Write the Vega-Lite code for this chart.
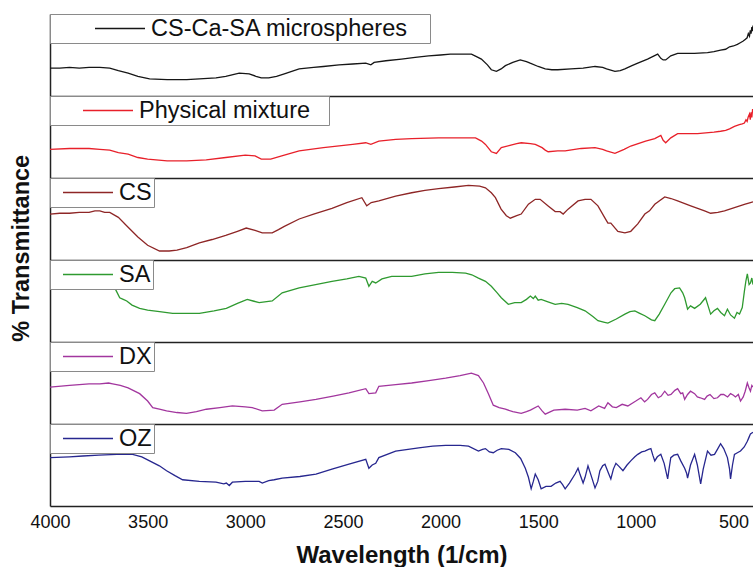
{
  "$schema": "https://vega.github.io/schema/vega-lite/v6.json",
  "padding": {"left": 10, "top": 13, "right": 0, "bottom": 0},
  "bounds": "flush",
  "title": {"text": "% Transmittance", "orient": "left", "anchor": "middle", "fontSize": 23.5, "fontWeight": "bold", "color": "#111111", "offset": -4, "dx": 42, "font": "Liberation Sans"},
  "datasets": {
    "ticks": [
      {"wavenumber":4000,"kind":"major"},{"wavenumber":3750,"kind":"minor"},{"wavenumber":3500,"kind":"major"},{"wavenumber":3250,"kind":"minor"},
      {"wavenumber":3000,"kind":"major"},{"wavenumber":2750,"kind":"minor"},{"wavenumber":2500,"kind":"major"},{"wavenumber":2250,"kind":"minor"},
      {"wavenumber":2000,"kind":"major"},{"wavenumber":1750,"kind":"minor"},{"wavenumber":1500,"kind":"major"},{"wavenumber":1250,"kind":"minor"},
      {"wavenumber":1000,"kind":"major"},{"wavenumber":750,"kind":"minor"},{"wavenumber":500,"kind":"major"}
    ],
    "spectra": [
      {"spectrum":"CS-Ca-SA microspheres","wavenumber":4000,"transmittance":34},{"spectrum":"CS-Ca-SA microspheres","wavenumber":3950,"transmittance":34},{"spectrum":"CS-Ca-SA microspheres","wavenumber":3900,"transmittance":35},{"spectrum":"CS-Ca-SA microspheres","wavenumber":3850,"transmittance":34},{"spectrum":"CS-Ca-SA microspheres","wavenumber":3800,"transmittance":35},{"spectrum":"CS-Ca-SA microspheres","wavenumber":3745,"transmittance":35},{"spectrum":"CS-Ca-SA microspheres","wavenumber":3694,"transmittance":34},{"spectrum":"CS-Ca-SA microspheres","wavenumber":3650,"transmittance":31},{"spectrum":"CS-Ca-SA microspheres","wavenumber":3600,"transmittance":28},{"spectrum":"CS-Ca-SA microspheres","wavenumber":3550,"transmittance":24},{"spectrum":"CS-Ca-SA microspheres","wavenumber":3490,"transmittance":21},{"spectrum":"CS-Ca-SA microspheres","wavenumber":3400,"transmittance":20},{"spectrum":"CS-Ca-SA microspheres","wavenumber":3300,"transmittance":20},{"spectrum":"CS-Ca-SA microspheres","wavenumber":3235,"transmittance":21},{"spectrum":"CS-Ca-SA microspheres","wavenumber":3150,"transmittance":22},{"spectrum":"CS-Ca-SA microspheres","wavenumber":3100,"transmittance":24},{"spectrum":"CS-Ca-SA microspheres","wavenumber":3031,"transmittance":28},{"spectrum":"CS-Ca-SA microspheres","wavenumber":2980,"transmittance":27},{"spectrum":"CS-Ca-SA microspheres","wavenumber":2945,"transmittance":24},{"spectrum":"CS-Ca-SA microspheres","wavenumber":2918,"transmittance":22},{"spectrum":"CS-Ca-SA microspheres","wavenumber":2880,"transmittance":22},{"spectrum":"CS-Ca-SA microspheres","wavenumber":2840,"transmittance":24},{"spectrum":"CS-Ca-SA microspheres","wavenumber":2800,"transmittance":27},{"spectrum":"CS-Ca-SA microspheres","wavenumber":2724,"transmittance":33},{"spectrum":"CS-Ca-SA microspheres","wavenumber":2650,"transmittance":35},{"spectrum":"CS-Ca-SA microspheres","wavenumber":2600,"transmittance":36},{"spectrum":"CS-Ca-SA microspheres","wavenumber":2520,"transmittance":38},{"spectrum":"CS-Ca-SA microspheres","wavenumber":2450,"transmittance":39},{"spectrum":"CS-Ca-SA microspheres","wavenumber":2383,"transmittance":40},{"spectrum":"CS-Ca-SA microspheres","wavenumber":2357,"transmittance":38},{"spectrum":"CS-Ca-SA microspheres","wavenumber":2340,"transmittance":41},{"spectrum":"CS-Ca-SA microspheres","wavenumber":2280,"transmittance":43},{"spectrum":"CS-Ca-SA microspheres","wavenumber":2200,"transmittance":45},{"spectrum":"CS-Ca-SA microspheres","wavenumber":2130,"transmittance":47},{"spectrum":"CS-Ca-SA microspheres","wavenumber":2061,"transmittance":49},{"spectrum":"CS-Ca-SA microspheres","wavenumber":2000,"transmittance":50},{"spectrum":"CS-Ca-SA microspheres","wavenumber":1950,"transmittance":51},{"spectrum":"CS-Ca-SA microspheres","wavenumber":1900,"transmittance":51},{"spectrum":"CS-Ca-SA microspheres","wavenumber":1842,"transmittance":51},{"spectrum":"CS-Ca-SA microspheres","wavenumber":1816,"transmittance":48},{"spectrum":"CS-Ca-SA microspheres","wavenumber":1791,"transmittance":45},{"spectrum":"CS-Ca-SA microspheres","wavenumber":1760,"transmittance":38},{"spectrum":"CS-Ca-SA microspheres","wavenumber":1740,"transmittance":32},{"spectrum":"CS-Ca-SA microspheres","wavenumber":1714,"transmittance":30},{"spectrum":"CS-Ca-SA microspheres","wavenumber":1690,"transmittance":33},{"spectrum":"CS-Ca-SA microspheres","wavenumber":1668,"transmittance":37},{"spectrum":"CS-Ca-SA microspheres","wavenumber":1630,"transmittance":41},{"spectrum":"CS-Ca-SA microspheres","wavenumber":1592,"transmittance":44},{"spectrum":"CS-Ca-SA microspheres","wavenumber":1560,"transmittance":42},{"spectrum":"CS-Ca-SA microspheres","wavenumber":1541,"transmittance":40},{"spectrum":"CS-Ca-SA microspheres","wavenumber":1500,"transmittance":36},{"spectrum":"CS-Ca-SA microspheres","wavenumber":1464,"transmittance":33},{"spectrum":"CS-Ca-SA microspheres","wavenumber":1430,"transmittance":32},{"spectrum":"CS-Ca-SA microspheres","wavenumber":1400,"transmittance":32},{"spectrum":"CS-Ca-SA microspheres","wavenumber":1332,"transmittance":33},{"spectrum":"CS-Ca-SA microspheres","wavenumber":1270,"transmittance":34},{"spectrum":"CS-Ca-SA microspheres","wavenumber":1209,"transmittance":36},{"spectrum":"CS-Ca-SA microspheres","wavenumber":1170,"transmittance":35},{"spectrum":"CS-Ca-SA microspheres","wavenumber":1150,"transmittance":33},{"spectrum":"CS-Ca-SA microspheres","wavenumber":1107,"transmittance":30},{"spectrum":"CS-Ca-SA microspheres","wavenumber":1080,"transmittance":31},{"spectrum":"CS-Ca-SA microspheres","wavenumber":1056,"transmittance":33},{"spectrum":"CS-Ca-SA microspheres","wavenumber":1020,"transmittance":37},{"spectrum":"CS-Ca-SA microspheres","wavenumber":990,"transmittance":40},{"spectrum":"CS-Ca-SA microspheres","wavenumber":940,"transmittance":45},{"spectrum":"CS-Ca-SA microspheres","wavenumber":888,"transmittance":51},{"spectrum":"CS-Ca-SA microspheres","wavenumber":872,"transmittance":46},{"spectrum":"CS-Ca-SA microspheres","wavenumber":860,"transmittance":44},{"spectrum":"CS-Ca-SA microspheres","wavenumber":847,"transmittance":44},{"spectrum":"CS-Ca-SA microspheres","wavenumber":821,"transmittance":49},{"spectrum":"CS-Ca-SA microspheres","wavenumber":786,"transmittance":52},{"spectrum":"CS-Ca-SA microspheres","wavenumber":740,"transmittance":52},{"spectrum":"CS-Ca-SA microspheres","wavenumber":700,"transmittance":52},{"spectrum":"CS-Ca-SA microspheres","wavenumber":633,"transmittance":53},{"spectrum":"CS-Ca-SA microspheres","wavenumber":600,"transmittance":54},{"spectrum":"CS-Ca-SA microspheres","wavenumber":566,"transmittance":56},{"spectrum":"CS-Ca-SA microspheres","wavenumber":540,"transmittance":57},{"spectrum":"CS-Ca-SA microspheres","wavenumber":520,"transmittance":60},{"spectrum":"CS-Ca-SA microspheres","wavenumber":500,"transmittance":61},{"spectrum":"CS-Ca-SA microspheres","wavenumber":480,"transmittance":63},{"spectrum":"CS-Ca-SA microspheres","wavenumber":465,"transmittance":65},{"spectrum":"CS-Ca-SA microspheres","wavenumber":450,"transmittance":67},{"spectrum":"CS-Ca-SA microspheres","wavenumber":440,"transmittance":69},{"spectrum":"CS-Ca-SA microspheres","wavenumber":430,"transmittance":71},{"spectrum":"CS-Ca-SA microspheres","wavenumber":424,"transmittance":76},{"spectrum":"CS-Ca-SA microspheres","wavenumber":418,"transmittance":73},{"spectrum":"CS-Ca-SA microspheres","wavenumber":414,"transmittance":80},{"spectrum":"CS-Ca-SA microspheres","wavenumber":410,"transmittance":76},{"spectrum":"CS-Ca-SA microspheres","wavenumber":406,"transmittance":84},{"spectrum":"CS-Ca-SA microspheres","wavenumber":403,"transmittance":79},{"spectrum":"CS-Ca-SA microspheres","wavenumber":400,"transmittance":86},

      {"spectrum":"Physical mixture","wavenumber":4000,"transmittance":35},{"spectrum":"Physical mixture","wavenumber":3900,"transmittance":36},{"spectrum":"Physical mixture","wavenumber":3800,"transmittance":36},{"spectrum":"Physical mixture","wavenumber":3745,"transmittance":35},{"spectrum":"Physical mixture","wavenumber":3694,"transmittance":34},{"spectrum":"Physical mixture","wavenumber":3650,"transmittance":31},{"spectrum":"Physical mixture","wavenumber":3600,"transmittance":29},{"spectrum":"Physical mixture","wavenumber":3550,"transmittance":25},{"spectrum":"Physical mixture","wavenumber":3500,"transmittance":23},{"spectrum":"Physical mixture","wavenumber":3400,"transmittance":21},{"spectrum":"Physical mixture","wavenumber":3300,"transmittance":21},{"spectrum":"Physical mixture","wavenumber":3200,"transmittance":22},{"spectrum":"Physical mixture","wavenumber":3100,"transmittance":25},{"spectrum":"Physical mixture","wavenumber":3000,"transmittance":28},{"spectrum":"Physical mixture","wavenumber":2950,"transmittance":27},{"spectrum":"Physical mixture","wavenumber":2918,"transmittance":23},{"spectrum":"Physical mixture","wavenumber":2870,"transmittance":23},{"spectrum":"Physical mixture","wavenumber":2800,"transmittance":28},{"spectrum":"Physical mixture","wavenumber":2724,"transmittance":33},{"spectrum":"Physical mixture","wavenumber":2600,"transmittance":37},{"spectrum":"Physical mixture","wavenumber":2450,"transmittance":41},{"spectrum":"Physical mixture","wavenumber":2383,"transmittance":43},{"spectrum":"Physical mixture","wavenumber":2357,"transmittance":41},{"spectrum":"Physical mixture","wavenumber":2316,"transmittance":45},{"spectrum":"Physical mixture","wavenumber":2230,"transmittance":47},{"spectrum":"Physical mixture","wavenumber":2148,"transmittance":48},{"spectrum":"Physical mixture","wavenumber":2010,"transmittance":49},{"spectrum":"Physical mixture","wavenumber":1900,"transmittance":49},{"spectrum":"Physical mixture","wavenumber":1821,"transmittance":49},{"spectrum":"Physical mixture","wavenumber":1790,"transmittance":45},{"spectrum":"Physical mixture","wavenumber":1770,"transmittance":41},{"spectrum":"Physical mixture","wavenumber":1740,"transmittance":32},{"spectrum":"Physical mixture","wavenumber":1714,"transmittance":30},{"spectrum":"Physical mixture","wavenumber":1689,"transmittance":37},{"spectrum":"Physical mixture","wavenumber":1640,"transmittance":40},{"spectrum":"Physical mixture","wavenumber":1610,"transmittance":42},{"spectrum":"Physical mixture","wavenumber":1587,"transmittance":43},{"spectrum":"Physical mixture","wavenumber":1540,"transmittance":42},{"spectrum":"Physical mixture","wavenumber":1515,"transmittance":41},{"spectrum":"Physical mixture","wavenumber":1480,"transmittance":37},{"spectrum":"Physical mixture","wavenumber":1464,"transmittance":34},{"spectrum":"Physical mixture","wavenumber":1449,"transmittance":32},{"spectrum":"Physical mixture","wavenumber":1400,"transmittance":33},{"spectrum":"Physical mixture","wavenumber":1362,"transmittance":33},{"spectrum":"Physical mixture","wavenumber":1280,"transmittance":36},{"spectrum":"Physical mixture","wavenumber":1209,"transmittance":37},{"spectrum":"Physical mixture","wavenumber":1170,"transmittance":35},{"spectrum":"Physical mixture","wavenumber":1150,"transmittance":33},{"spectrum":"Physical mixture","wavenumber":1107,"transmittance":30},{"spectrum":"Physical mixture","wavenumber":1060,"transmittance":35},{"spectrum":"Physical mixture","wavenumber":1026,"transmittance":39},{"spectrum":"Physical mixture","wavenumber":950,"transmittance":45},{"spectrum":"Physical mixture","wavenumber":903,"transmittance":48},{"spectrum":"Physical mixture","wavenumber":872,"transmittance":52},{"spectrum":"Physical mixture","wavenumber":860,"transmittance":46},{"spectrum":"Physical mixture","wavenumber":847,"transmittance":43},{"spectrum":"Physical mixture","wavenumber":821,"transmittance":49},{"spectrum":"Physical mixture","wavenumber":786,"transmittance":54},{"spectrum":"Physical mixture","wavenumber":740,"transmittance":54},{"spectrum":"Physical mixture","wavenumber":684,"transmittance":54},{"spectrum":"Physical mixture","wavenumber":600,"transmittance":56},{"spectrum":"Physical mixture","wavenumber":566,"transmittance":57},{"spectrum":"Physical mixture","wavenumber":540,"transmittance":58},{"spectrum":"Physical mixture","wavenumber":520,"transmittance":60},{"spectrum":"Physical mixture","wavenumber":495,"transmittance":63},{"spectrum":"Physical mixture","wavenumber":470,"transmittance":65},{"spectrum":"Physical mixture","wavenumber":455,"transmittance":66},{"spectrum":"Physical mixture","wavenumber":444,"transmittance":67},{"spectrum":"Physical mixture","wavenumber":436,"transmittance":71},{"spectrum":"Physical mixture","wavenumber":430,"transmittance":69},{"spectrum":"Physical mixture","wavenumber":425,"transmittance":74},{"spectrum":"Physical mixture","wavenumber":418,"transmittance":78},{"spectrum":"Physical mixture","wavenumber":414,"transmittance":71},{"spectrum":"Physical mixture","wavenumber":410,"transmittance":80},{"spectrum":"Physical mixture","wavenumber":406,"transmittance":74},{"spectrum":"Physical mixture","wavenumber":402,"transmittance":84},{"spectrum":"Physical mixture","wavenumber":400,"transmittance":80},

      {"spectrum":"CS","wavenumber":4000,"transmittance":56},{"spectrum":"CS","wavenumber":3950,"transmittance":57},{"spectrum":"CS","wavenumber":3900,"transmittance":57},{"spectrum":"CS","wavenumber":3850,"transmittance":58},{"spectrum":"CS","wavenumber":3800,"transmittance":58},{"spectrum":"CS","wavenumber":3770,"transmittance":60},{"spectrum":"CS","wavenumber":3745,"transmittance":60},{"spectrum":"CS","wavenumber":3720,"transmittance":58},{"spectrum":"CS","wavenumber":3694,"transmittance":58},{"spectrum":"CS","wavenumber":3650,"transmittance":52},{"spectrum":"CS","wavenumber":3600,"transmittance":40},{"spectrum":"CS","wavenumber":3550,"transmittance":28},{"spectrum":"CS","wavenumber":3500,"transmittance":18},{"spectrum":"CS","wavenumber":3439,"transmittance":11},{"spectrum":"CS","wavenumber":3390,"transmittance":11},{"spectrum":"CS","wavenumber":3350,"transmittance":12},{"spectrum":"CS","wavenumber":3300,"transmittance":15},{"spectrum":"CS","wavenumber":3235,"transmittance":21},{"spectrum":"CS","wavenumber":3170,"transmittance":25},{"spectrum":"CS","wavenumber":3100,"transmittance":30},{"spectrum":"CS","wavenumber":3040,"transmittance":35},{"spectrum":"CS","wavenumber":2995,"transmittance":39},{"spectrum":"CS","wavenumber":2950,"transmittance":36},{"spectrum":"CS","wavenumber":2913,"transmittance":33},{"spectrum":"CS","wavenumber":2862,"transmittance":33},{"spectrum":"CS","wavenumber":2830,"transmittance":37},{"spectrum":"CS","wavenumber":2800,"transmittance":41},{"spectrum":"CS","wavenumber":2724,"transmittance":50},{"spectrum":"CS","wavenumber":2650,"transmittance":56},{"spectrum":"CS","wavenumber":2556,"transmittance":63},{"spectrum":"CS","wavenumber":2480,"transmittance":70},{"spectrum":"CS","wavenumber":2403,"transmittance":76},{"spectrum":"CS","wavenumber":2378,"transmittance":66},{"spectrum":"CS","wavenumber":2355,"transmittance":70},{"spectrum":"CS","wavenumber":2316,"transmittance":72},{"spectrum":"CS","wavenumber":2230,"transmittance":78},{"spectrum":"CS","wavenumber":2148,"transmittance":82},{"spectrum":"CS","wavenumber":2080,"transmittance":85},{"spectrum":"CS","wavenumber":2010,"transmittance":87},{"spectrum":"CS","wavenumber":1930,"transmittance":89},{"spectrum":"CS","wavenumber":1857,"transmittance":91},{"spectrum":"CS","wavenumber":1800,"transmittance":90},{"spectrum":"CS","wavenumber":1770,"transmittance":88},{"spectrum":"CS","wavenumber":1740,"transmittance":82},{"spectrum":"CS","wavenumber":1719,"transmittance":76},{"spectrum":"CS","wavenumber":1690,"transmittance":62},{"spectrum":"CS","wavenumber":1663,"transmittance":54},{"spectrum":"CS","wavenumber":1643,"transmittance":51},{"spectrum":"CS","wavenumber":1610,"transmittance":54},{"spectrum":"CS","wavenumber":1587,"transmittance":56},{"spectrum":"CS","wavenumber":1550,"transmittance":68},{"spectrum":"CS","wavenumber":1515,"transmittance":74},{"spectrum":"CS","wavenumber":1490,"transmittance":74},{"spectrum":"CS","wavenumber":1449,"transmittance":66},{"spectrum":"CS","wavenumber":1413,"transmittance":59},{"spectrum":"CS","wavenumber":1388,"transmittance":59},{"spectrum":"CS","wavenumber":1372,"transmittance":56},{"spectrum":"CS","wavenumber":1347,"transmittance":62},{"spectrum":"CS","wavenumber":1296,"transmittance":72},{"spectrum":"CS","wavenumber":1260,"transmittance":74},{"spectrum":"CS","wavenumber":1230,"transmittance":74},{"spectrum":"CS","wavenumber":1194,"transmittance":66},{"spectrum":"CS","wavenumber":1158,"transmittance":51},{"spectrum":"CS","wavenumber":1143,"transmittance":45},{"spectrum":"CS","wavenumber":1128,"transmittance":45},{"spectrum":"CS","wavenumber":1092,"transmittance":35},{"spectrum":"CS","wavenumber":1056,"transmittance":33},{"spectrum":"CS","wavenumber":1026,"transmittance":35},{"spectrum":"CS","wavenumber":990,"transmittance":44},{"spectrum":"CS","wavenumber":954,"transmittance":56},{"spectrum":"CS","wavenumber":930,"transmittance":60},{"spectrum":"CS","wavenumber":903,"transmittance":68},{"spectrum":"CS","wavenumber":852,"transmittance":77},{"spectrum":"CS","wavenumber":820,"transmittance":75},{"spectrum":"CS","wavenumber":786,"transmittance":72},{"spectrum":"CS","wavenumber":719,"transmittance":66},{"spectrum":"CS","wavenumber":648,"transmittance":60},{"spectrum":"CS","wavenumber":617,"transmittance":57},{"spectrum":"CS","wavenumber":580,"transmittance":58},{"spectrum":"CS","wavenumber":546,"transmittance":60},{"spectrum":"CS","wavenumber":495,"transmittance":64},{"spectrum":"CS","wavenumber":440,"transmittance":68},{"spectrum":"CS","wavenumber":413,"transmittance":70},{"spectrum":"CS","wavenumber":400,"transmittance":71},

      {"spectrum":"SA","wavenumber":4000,"transmittance":76},{"spectrum":"SA","wavenumber":3900,"transmittance":77},{"spectrum":"SA","wavenumber":3800,"transmittance":78},{"spectrum":"SA","wavenumber":3720,"transmittance":77},{"spectrum":"SA","wavenumber":3690,"transmittance":75},{"spectrum":"SA","wavenumber":3679,"transmittance":71},{"spectrum":"SA","wavenumber":3660,"transmittance":62},{"spectrum":"SA","wavenumber":3643,"transmittance":54},{"spectrum":"SA","wavenumber":3625,"transmittance":52},{"spectrum":"SA","wavenumber":3607,"transmittance":50},{"spectrum":"SA","wavenumber":3580,"transmittance":45},{"spectrum":"SA","wavenumber":3541,"transmittance":41},{"spectrum":"SA","wavenumber":3500,"transmittance":39},{"spectrum":"SA","wavenumber":3439,"transmittance":37},{"spectrum":"SA","wavenumber":3372,"transmittance":35},{"spectrum":"SA","wavenumber":3300,"transmittance":35},{"spectrum":"SA","wavenumber":3235,"transmittance":35},{"spectrum":"SA","wavenumber":3160,"transmittance":38},{"spectrum":"SA","wavenumber":3097,"transmittance":41},{"spectrum":"SA","wavenumber":3040,"transmittance":47},{"spectrum":"SA","wavenumber":2990,"transmittance":52},{"spectrum":"SA","wavenumber":2960,"transmittance":50},{"spectrum":"SA","wavenumber":2929,"transmittance":48},{"spectrum":"SA","wavenumber":2862,"transmittance":50},{"spectrum":"SA","wavenumber":2811,"transmittance":60},{"spectrum":"SA","wavenumber":2724,"transmittance":66},{"spectrum":"SA","wavenumber":2640,"transmittance":70},{"spectrum":"SA","wavenumber":2556,"transmittance":74},{"spectrum":"SA","wavenumber":2480,"transmittance":77},{"spectrum":"SA","wavenumber":2418,"transmittance":80},{"spectrum":"SA","wavenumber":2383,"transmittance":78},{"spectrum":"SA","wavenumber":2367,"transmittance":68},{"spectrum":"SA","wavenumber":2350,"transmittance":74},{"spectrum":"SA","wavenumber":2332,"transmittance":72},{"spectrum":"SA","wavenumber":2300,"transmittance":77},{"spectrum":"SA","wavenumber":2250,"transmittance":80},{"spectrum":"SA","wavenumber":2148,"transmittance":80},{"spectrum":"SA","wavenumber":2080,"transmittance":83},{"spectrum":"SA","wavenumber":2010,"transmittance":85},{"spectrum":"SA","wavenumber":1940,"transmittance":85},{"spectrum":"SA","wavenumber":1872,"transmittance":84},{"spectrum":"SA","wavenumber":1840,"transmittance":82},{"spectrum":"SA","wavenumber":1806,"transmittance":78},{"spectrum":"SA","wavenumber":1770,"transmittance":74},{"spectrum":"SA","wavenumber":1740,"transmittance":68},{"spectrum":"SA","wavenumber":1710,"transmittance":60},{"spectrum":"SA","wavenumber":1689,"transmittance":54},{"spectrum":"SA","wavenumber":1653,"transmittance":46},{"spectrum":"SA","wavenumber":1620,"transmittance":48},{"spectrum":"SA","wavenumber":1587,"transmittance":48},{"spectrum":"SA","wavenumber":1560,"transmittance":52},{"spectrum":"SA","wavenumber":1540,"transmittance":56},{"spectrum":"SA","wavenumber":1525,"transmittance":53},{"spectrum":"SA","wavenumber":1515,"transmittance":56},{"spectrum":"SA","wavenumber":1500,"transmittance":51},{"spectrum":"SA","wavenumber":1485,"transmittance":52},{"spectrum":"SA","wavenumber":1450,"transmittance":49},{"spectrum":"SA","wavenumber":1413,"transmittance":46},{"spectrum":"SA","wavenumber":1380,"transmittance":47},{"spectrum":"SA","wavenumber":1347,"transmittance":46},{"spectrum":"SA","wavenumber":1300,"transmittance":42},{"spectrum":"SA","wavenumber":1260,"transmittance":38},{"spectrum":"SA","wavenumber":1220,"transmittance":31},{"spectrum":"SA","wavenumber":1194,"transmittance":26},{"spectrum":"SA","wavenumber":1160,"transmittance":24},{"spectrum":"SA","wavenumber":1143,"transmittance":23},{"spectrum":"SA","wavenumber":1100,"transmittance":28},{"spectrum":"SA","wavenumber":1056,"transmittance":34},{"spectrum":"SA","wavenumber":1030,"transmittance":37},{"spectrum":"SA","wavenumber":1005,"transmittance":38},{"spectrum":"SA","wavenumber":980,"transmittance":35},{"spectrum":"SA","wavenumber":954,"transmittance":32},{"spectrum":"SA","wavenumber":920,"transmittance":27},{"spectrum":"SA","wavenumber":903,"transmittance":26},{"spectrum":"SA","wavenumber":880,"transmittance":34},{"spectrum":"SA","wavenumber":852,"transmittance":46},{"spectrum":"SA","wavenumber":820,"transmittance":60},{"spectrum":"SA","wavenumber":801,"transmittance":65},{"spectrum":"SA","wavenumber":776,"transmittance":66},{"spectrum":"SA","wavenumber":760,"transmittance":60},{"spectrum":"SA","wavenumber":750,"transmittance":54},{"spectrum":"SA","wavenumber":735,"transmittance":40},{"spectrum":"SA","wavenumber":720,"transmittance":44},{"spectrum":"SA","wavenumber":699,"transmittance":41},{"spectrum":"SA","wavenumber":670,"transmittance":46},{"spectrum":"SA","wavenumber":643,"transmittance":54},{"spectrum":"SA","wavenumber":630,"transmittance":44},{"spectrum":"SA","wavenumber":617,"transmittance":34},{"spectrum":"SA","wavenumber":600,"transmittance":38},{"spectrum":"SA","wavenumber":582,"transmittance":41},{"spectrum":"SA","wavenumber":565,"transmittance":36},{"spectrum":"SA","wavenumber":546,"transmittance":32},{"spectrum":"SA","wavenumber":531,"transmittance":40},{"spectrum":"SA","wavenumber":515,"transmittance":33},{"spectrum":"SA","wavenumber":495,"transmittance":29},{"spectrum":"SA","wavenumber":482,"transmittance":36},{"spectrum":"SA","wavenumber":469,"transmittance":34},{"spectrum":"SA","wavenumber":455,"transmittance":42},{"spectrum":"SA","wavenumber":444,"transmittance":62},{"spectrum":"SA","wavenumber":436,"transmittance":75},{"spectrum":"SA","wavenumber":429,"transmittance":83},{"spectrum":"SA","wavenumber":420,"transmittance":70},{"spectrum":"SA","wavenumber":413,"transmittance":72},{"spectrum":"SA","wavenumber":406,"transmittance":78},{"spectrum":"SA","wavenumber":400,"transmittance":70},

      {"spectrum":"DX","wavenumber":4000,"transmittance":45},{"spectrum":"DX","wavenumber":3900,"transmittance":47},{"spectrum":"DX","wavenumber":3800,"transmittance":49},{"spectrum":"DX","wavenumber":3745,"transmittance":49},{"spectrum":"DX","wavenumber":3700,"transmittance":50},{"spectrum":"DX","wavenumber":3679,"transmittance":49},{"spectrum":"DX","wavenumber":3640,"transmittance":47},{"spectrum":"DX","wavenumber":3600,"transmittance":44},{"spectrum":"DX","wavenumber":3541,"transmittance":37},{"spectrum":"DX","wavenumber":3500,"transmittance":28},{"spectrum":"DX","wavenumber":3474,"transmittance":20},{"spectrum":"DX","wavenumber":3440,"transmittance":18},{"spectrum":"DX","wavenumber":3403,"transmittance":16},{"spectrum":"DX","wavenumber":3350,"transmittance":14},{"spectrum":"DX","wavenumber":3301,"transmittance":13},{"spectrum":"DX","wavenumber":3250,"transmittance":15},{"spectrum":"DX","wavenumber":3199,"transmittance":18},{"spectrum":"DX","wavenumber":3130,"transmittance":20},{"spectrum":"DX","wavenumber":3066,"transmittance":22},{"spectrum":"DX","wavenumber":3000,"transmittance":21},{"spectrum":"DX","wavenumber":2964,"transmittance":20},{"spectrum":"DX","wavenumber":2913,"transmittance":16},{"spectrum":"DX","wavenumber":2852,"transmittance":17},{"spectrum":"DX","wavenumber":2811,"transmittance":24},{"spectrum":"DX","wavenumber":2720,"transmittance":27},{"spectrum":"DX","wavenumber":2638,"transmittance":30},{"spectrum":"DX","wavenumber":2550,"transmittance":34},{"spectrum":"DX","wavenumber":2469,"transmittance":38},{"spectrum":"DX","wavenumber":2383,"transmittance":43},{"spectrum":"DX","wavenumber":2367,"transmittance":37},{"spectrum":"DX","wavenumber":2332,"transmittance":38},{"spectrum":"DX","wavenumber":2316,"transmittance":46},{"spectrum":"DX","wavenumber":2230,"transmittance":48},{"spectrum":"DX","wavenumber":2148,"transmittance":50},{"spectrum":"DX","wavenumber":2060,"transmittance":53},{"spectrum":"DX","wavenumber":1974,"transmittance":56},{"spectrum":"DX","wavenumber":1900,"transmittance":59},{"spectrum":"DX","wavenumber":1842,"transmittance":62},{"spectrum":"DX","wavenumber":1806,"transmittance":59},{"spectrum":"DX","wavenumber":1780,"transmittance":50},{"spectrum":"DX","wavenumber":1755,"transmittance":37},{"spectrum":"DX","wavenumber":1730,"transmittance":23},{"spectrum":"DX","wavenumber":1700,"transmittance":20},{"spectrum":"DX","wavenumber":1668,"transmittance":18},{"spectrum":"DX","wavenumber":1630,"transmittance":15},{"spectrum":"DX","wavenumber":1587,"transmittance":13},{"spectrum":"DX","wavenumber":1560,"transmittance":15},{"spectrum":"DX","wavenumber":1540,"transmittance":17},{"spectrum":"DX","wavenumber":1500,"transmittance":22},{"spectrum":"DX","wavenumber":1480,"transmittance":16},{"spectrum":"DX","wavenumber":1464,"transmittance":12},{"spectrum":"DX","wavenumber":1420,"transmittance":17},{"spectrum":"DX","wavenumber":1362,"transmittance":18},{"spectrum":"DX","wavenumber":1300,"transmittance":17},{"spectrum":"DX","wavenumber":1260,"transmittance":19},{"spectrum":"DX","wavenumber":1230,"transmittance":16},{"spectrum":"DX","wavenumber":1190,"transmittance":22},{"spectrum":"DX","wavenumber":1160,"transmittance":19},{"spectrum":"DX","wavenumber":1143,"transmittance":26},{"spectrum":"DX","wavenumber":1120,"transmittance":21},{"spectrum":"DX","wavenumber":1100,"transmittance":20},{"spectrum":"DX","wavenumber":1070,"transmittance":24},{"spectrum":"DX","wavenumber":1041,"transmittance":22},{"spectrum":"DX","wavenumber":1000,"transmittance":28},{"spectrum":"DX","wavenumber":974,"transmittance":32},{"spectrum":"DX","wavenumber":955,"transmittance":27},{"spectrum":"DX","wavenumber":940,"transmittance":30},{"spectrum":"DX","wavenumber":920,"transmittance":36},{"spectrum":"DX","wavenumber":903,"transmittance":38},{"spectrum":"DX","wavenumber":885,"transmittance":32},{"spectrum":"DX","wavenumber":870,"transmittance":34},{"spectrum":"DX","wavenumber":852,"transmittance":40},{"spectrum":"DX","wavenumber":835,"transmittance":35},{"spectrum":"DX","wavenumber":820,"transmittance":36},{"spectrum":"DX","wavenumber":800,"transmittance":41},{"spectrum":"DX","wavenumber":786,"transmittance":43},{"spectrum":"DX","wavenumber":770,"transmittance":37},{"spectrum":"DX","wavenumber":760,"transmittance":38},{"spectrum":"DX","wavenumber":750,"transmittance":30},{"spectrum":"DX","wavenumber":735,"transmittance":36},{"spectrum":"DX","wavenumber":720,"transmittance":40},{"spectrum":"DX","wavenumber":699,"transmittance":37},{"spectrum":"DX","wavenumber":685,"transmittance":33},{"spectrum":"DX","wavenumber":670,"transmittance":32},{"spectrum":"DX","wavenumber":648,"transmittance":30},{"spectrum":"DX","wavenumber":635,"transmittance":34},{"spectrum":"DX","wavenumber":620,"transmittance":36},{"spectrum":"DX","wavenumber":600,"transmittance":31},{"spectrum":"DX","wavenumber":582,"transmittance":32},{"spectrum":"DX","wavenumber":565,"transmittance":36},{"spectrum":"DX","wavenumber":550,"transmittance":36},{"spectrum":"DX","wavenumber":530,"transmittance":33},{"spectrum":"DX","wavenumber":515,"transmittance":37},{"spectrum":"DX","wavenumber":500,"transmittance":35},{"spectrum":"DX","wavenumber":490,"transmittance":33},{"spectrum":"DX","wavenumber":475,"transmittance":36},{"spectrum":"DX","wavenumber":464,"transmittance":28},{"spectrum":"DX","wavenumber":450,"transmittance":33},{"spectrum":"DX","wavenumber":440,"transmittance":40},{"spectrum":"DX","wavenumber":429,"transmittance":50},{"spectrum":"DX","wavenumber":420,"transmittance":44},{"spectrum":"DX","wavenumber":413,"transmittance":40},{"spectrum":"DX","wavenumber":406,"transmittance":47},{"spectrum":"DX","wavenumber":400,"transmittance":45},

      {"spectrum":"OZ","wavenumber":4000,"transmittance":59},{"spectrum":"OZ","wavenumber":3900,"transmittance":60},{"spectrum":"OZ","wavenumber":3832,"transmittance":61},{"spectrum":"OZ","wavenumber":3750,"transmittance":62},{"spectrum":"OZ","wavenumber":3658,"transmittance":63},{"spectrum":"OZ","wavenumber":3577,"transmittance":63},{"spectrum":"OZ","wavenumber":3530,"transmittance":60},{"spectrum":"OZ","wavenumber":3490,"transmittance":55},{"spectrum":"OZ","wavenumber":3440,"transmittance":49},{"spectrum":"OZ","wavenumber":3403,"transmittance":43},{"spectrum":"OZ","wavenumber":3360,"transmittance":37},{"spectrum":"OZ","wavenumber":3321,"transmittance":32},{"spectrum":"OZ","wavenumber":3235,"transmittance":30},{"spectrum":"OZ","wavenumber":3150,"transmittance":29},{"spectrum":"OZ","wavenumber":3110,"transmittance":27},{"spectrum":"OZ","wavenumber":3097,"transmittance":28},{"spectrum":"OZ","wavenumber":3082,"transmittance":25},{"spectrum":"OZ","wavenumber":3066,"transmittance":29},{"spectrum":"OZ","wavenumber":3000,"transmittance":30},{"spectrum":"OZ","wavenumber":2929,"transmittance":30},{"spectrum":"OZ","wavenumber":2913,"transmittance":28},{"spectrum":"OZ","wavenumber":2880,"transmittance":31},{"spectrum":"OZ","wavenumber":2852,"transmittance":32},{"spectrum":"OZ","wavenumber":2811,"transmittance":34},{"spectrum":"OZ","wavenumber":2720,"transmittance":36},{"spectrum":"OZ","wavenumber":2638,"transmittance":39},{"spectrum":"OZ","wavenumber":2556,"transmittance":45},{"spectrum":"OZ","wavenumber":2469,"transmittance":51},{"spectrum":"OZ","wavenumber":2383,"transmittance":57},{"spectrum":"OZ","wavenumber":2367,"transmittance":46},{"spectrum":"OZ","wavenumber":2350,"transmittance":50},{"spectrum":"OZ","wavenumber":2332,"transmittance":52},{"spectrum":"OZ","wavenumber":2316,"transmittance":59},{"spectrum":"OZ","wavenumber":2230,"transmittance":67},{"spectrum":"OZ","wavenumber":2112,"transmittance":71},{"spectrum":"OZ","wavenumber":2040,"transmittance":73},{"spectrum":"OZ","wavenumber":1974,"transmittance":74},{"spectrum":"OZ","wavenumber":1900,"transmittance":74},{"spectrum":"OZ","wavenumber":1857,"transmittance":73},{"spectrum":"OZ","wavenumber":1806,"transmittance":67},{"spectrum":"OZ","wavenumber":1785,"transmittance":69},{"spectrum":"OZ","wavenumber":1770,"transmittance":70},{"spectrum":"OZ","wavenumber":1750,"transmittance":66},{"spectrum":"OZ","wavenumber":1730,"transmittance":65},{"spectrum":"OZ","wavenumber":1710,"transmittance":68},{"spectrum":"OZ","wavenumber":1689,"transmittance":70},{"spectrum":"OZ","wavenumber":1650,"transmittance":69},{"spectrum":"OZ","wavenumber":1617,"transmittance":65},{"spectrum":"OZ","wavenumber":1590,"transmittance":58},{"spectrum":"OZ","wavenumber":1566,"transmittance":46},{"spectrum":"OZ","wavenumber":1550,"transmittance":35},{"spectrum":"OZ","wavenumber":1536,"transmittance":21},{"spectrum":"OZ","wavenumber":1525,"transmittance":30},{"spectrum":"OZ","wavenumber":1515,"transmittance":39},{"spectrum":"OZ","wavenumber":1500,"transmittance":32},{"spectrum":"OZ","wavenumber":1485,"transmittance":21},{"spectrum":"OZ","wavenumber":1460,"transmittance":24},{"spectrum":"OZ","wavenumber":1434,"transmittance":24},{"spectrum":"OZ","wavenumber":1410,"transmittance":28},{"spectrum":"OZ","wavenumber":1388,"transmittance":30},{"spectrum":"OZ","wavenumber":1375,"transmittance":26},{"spectrum":"OZ","wavenumber":1362,"transmittance":21},{"spectrum":"OZ","wavenumber":1340,"transmittance":28},{"spectrum":"OZ","wavenumber":1311,"transmittance":39},{"spectrum":"OZ","wavenumber":1296,"transmittance":46},{"spectrum":"OZ","wavenumber":1285,"transmittance":38},{"spectrum":"OZ","wavenumber":1270,"transmittance":28},{"spectrum":"OZ","wavenumber":1260,"transmittance":35},{"spectrum":"OZ","wavenumber":1245,"transmittance":49},{"spectrum":"OZ","wavenumber":1230,"transmittance":38},{"spectrum":"OZ","wavenumber":1209,"transmittance":22},{"spectrum":"OZ","wavenumber":1195,"transmittance":30},{"spectrum":"OZ","wavenumber":1184,"transmittance":43},{"spectrum":"OZ","wavenumber":1170,"transmittance":49},{"spectrum":"OZ","wavenumber":1158,"transmittance":51},{"spectrum":"OZ","wavenumber":1140,"transmittance":40},{"spectrum":"OZ","wavenumber":1128,"transmittance":33},{"spectrum":"OZ","wavenumber":1115,"transmittance":45},{"spectrum":"OZ","wavenumber":1102,"transmittance":52},{"spectrum":"OZ","wavenumber":1085,"transmittance":48},{"spectrum":"OZ","wavenumber":1066,"transmittance":43},{"spectrum":"OZ","wavenumber":1045,"transmittance":50},{"spectrum":"OZ","wavenumber":1026,"transmittance":55},{"spectrum":"OZ","wavenumber":1005,"transmittance":60},{"spectrum":"OZ","wavenumber":990,"transmittance":63},{"spectrum":"OZ","wavenumber":970,"transmittance":66},{"spectrum":"OZ","wavenumber":954,"transmittance":67},{"spectrum":"OZ","wavenumber":935,"transmittance":69},{"spectrum":"OZ","wavenumber":923,"transmittance":70},{"spectrum":"OZ","wavenumber":913,"transmittance":62},{"spectrum":"OZ","wavenumber":903,"transmittance":55},{"spectrum":"OZ","wavenumber":890,"transmittance":60},{"spectrum":"OZ","wavenumber":872,"transmittance":63},{"spectrum":"OZ","wavenumber":855,"transmittance":52},{"spectrum":"OZ","wavenumber":837,"transmittance":33},{"spectrum":"OZ","wavenumber":830,"transmittance":45},{"spectrum":"OZ","wavenumber":821,"transmittance":59},{"spectrum":"OZ","wavenumber":805,"transmittance":62},{"spectrum":"OZ","wavenumber":786,"transmittance":63},{"spectrum":"OZ","wavenumber":770,"transmittance":55},{"spectrum":"OZ","wavenumber":750,"transmittance":46},{"spectrum":"OZ","wavenumber":740,"transmittance":40},{"spectrum":"OZ","wavenumber":735,"transmittance":34},{"spectrum":"OZ","wavenumber":720,"transmittance":50},{"spectrum":"OZ","wavenumber":699,"transmittance":63},{"spectrum":"OZ","wavenumber":685,"transmittance":50},{"spectrum":"OZ","wavenumber":668,"transmittance":27},{"spectrum":"OZ","wavenumber":655,"transmittance":45},{"spectrum":"OZ","wavenumber":633,"transmittance":67},{"spectrum":"OZ","wavenumber":615,"transmittance":62},{"spectrum":"OZ","wavenumber":597,"transmittance":63},{"spectrum":"OZ","wavenumber":580,"transmittance":70},{"spectrum":"OZ","wavenumber":566,"transmittance":76},{"spectrum":"OZ","wavenumber":550,"transmittance":70},{"spectrum":"OZ","wavenumber":531,"transmittance":59},{"spectrum":"OZ","wavenumber":520,"transmittance":45},{"spectrum":"OZ","wavenumber":515,"transmittance":33},{"spectrum":"OZ","wavenumber":505,"transmittance":50},{"spectrum":"OZ","wavenumber":495,"transmittance":63},{"spectrum":"OZ","wavenumber":480,"transmittance":65},{"spectrum":"OZ","wavenumber":464,"transmittance":67},{"spectrum":"OZ","wavenumber":445,"transmittance":72},{"spectrum":"OZ","wavenumber":429,"transmittance":79},{"spectrum":"OZ","wavenumber":420,"transmittance":84},{"spectrum":"OZ","wavenumber":413,"transmittance":88},{"spectrum":"OZ","wavenumber":400,"transmittance":90}
    ]
  },
  "data": {"name": "spectra"},
  "spacing": 0,
  "resolve": {"scale": {"color": "independent"}, "legend": {"color": "independent"}},
  "vconcat": [
    {
      "width": 703, "height": 82,
      "encoding": {
        "x": {"field": "wavenumber", "type": "quantitative", "scale": {"domain": [400, 4000], "reverse": true, "nice": false, "zero": false},
              "axis": {"orient": "bottom", "ticks": false, "tickSize": 0, "labels": false, "title": null}},
        "y": {"field": "transmittance", "type": "quantitative", "scale": {"domain": [0, 100], "nice": false, "zero": false},
              "axis": {"ticks": false, "labels": false, "title": null}}
      },
      "layer": [
        {
          "transform": [{"filter": "datum.spectrum === 'CS-Ca-SA microspheres'"}],
          "mark": {"type": "line", "strokeWidth": 1.3, "clip": true},
          "encoding": {
            "color": {"field": "spectrum", "type": "nominal", "scale": {"range": ["#161616"]},
                      "legend": {"symbolOffset": 42, "labelOffset": 5, "labelExpr": "datum.label + '\u2002\u2004\u200b'"}}
          }
        },
        {
          "data": {"name": "ticks"},
          "transform": [{"filter": "datum.kind === 'major'"}],
          "mark": {"type": "rule", "stroke": "#222222", "strokeWidth": 1.5},
          "encoding": {"y": {"datum": 0}, "y2": {"datum": 8.5}}
        },
        {
          "data": {"name": "ticks"},
          "transform": [{"filter": "datum.kind === 'minor'"}],
          "mark": {"type": "rule", "stroke": "#222222", "strokeWidth": 1.5},
          "encoding": {"y": {"datum": 0}, "y2": {"datum": 4.9}}
        },
        {
          "data": {"name": "ticks"},
          "mark": {"type": "rule", "stroke": "#222222", "strokeWidth": 1.5},
          "encoding": {"y": {"datum": 100}, "y2": {"datum": 93.5}}
        },
        {
          "data": {"name": "ticks"},
          "transform": [{"filter": "datum.wavenumber === 4000"}],
          "mark": {"type": "rule", "stroke": "#222222", "strokeWidth": 1.5},
          "encoding": {"x": {"datum": 4000, "type": "quantitative", "axis": {"orient": "bottom", "ticks": false, "tickSize": 0, "labels": false, "title": null}},
                       "x2": {"datum": 400}, "y": {"datum": 100}}
        }
      ]
    },
    {
      "width": 703, "height": 82,
      "encoding": {
        "x": {"field": "wavenumber", "type": "quantitative", "scale": {"domain": [400, 4000], "reverse": true, "nice": false, "zero": false},
              "axis": {"orient": "bottom", "ticks": false, "tickSize": 0, "labels": false, "title": null}},
        "y": {"field": "transmittance", "type": "quantitative", "scale": {"domain": [0, 100], "nice": false, "zero": false},
              "axis": {"ticks": false, "labels": false, "title": null}}
      },
      "layer": [
        {
          "transform": [{"filter": "datum.spectrum === 'Physical mixture'"}],
          "mark": {"type": "line", "strokeWidth": 1.3, "clip": true},
          "encoding": {
            "color": {"field": "spectrum", "type": "nominal", "scale": {"range": ["#e8202a"]},
                      "legend": {"symbolOffset": 30, "labelOffset": 5, "labelExpr": "datum.label + '\u2002\u2009\u200b'"}}
          }
        },
        {
          "data": {"name": "ticks"},
          "transform": [{"filter": "datum.kind === 'major'"}],
          "mark": {"type": "rule", "stroke": "#222222", "strokeWidth": 1.5},
          "encoding": {"y": {"datum": 0}, "y2": {"datum": 8.5}}
        },
        {
          "data": {"name": "ticks"},
          "transform": [{"filter": "datum.kind === 'minor'"}],
          "mark": {"type": "rule", "stroke": "#222222", "strokeWidth": 1.5},
          "encoding": {"y": {"datum": 0}, "y2": {"datum": 4.9}}
        }
      ]
    },
    {
      "width": 703, "height": 82,
      "encoding": {
        "x": {"field": "wavenumber", "type": "quantitative", "scale": {"domain": [400, 4000], "reverse": true, "nice": false, "zero": false},
              "axis": {"orient": "bottom", "ticks": false, "tickSize": 0, "labels": false, "title": null}},
        "y": {"field": "transmittance", "type": "quantitative", "scale": {"domain": [0, 100], "nice": false, "zero": false},
              "axis": {"ticks": false, "labels": false, "title": null}}
      },
      "layer": [
        {
          "transform": [{"filter": "datum.spectrum === 'CS'"}],
          "mark": {"type": "line", "strokeWidth": 1.3, "clip": true},
          "encoding": {
            "color": {"field": "spectrum", "type": "nominal", "scale": {"range": ["#8e2626"]},
                      "legend": {"symbolOffset": 10, "labelOffset": 5}}
          }
        },
        {
          "data": {"name": "ticks"},
          "transform": [{"filter": "datum.kind === 'major'"}],
          "mark": {"type": "rule", "stroke": "#222222", "strokeWidth": 1.5},
          "encoding": {"y": {"datum": 0}, "y2": {"datum": 8.5}}
        },
        {
          "data": {"name": "ticks"},
          "transform": [{"filter": "datum.kind === 'minor'"}],
          "mark": {"type": "rule", "stroke": "#222222", "strokeWidth": 1.5},
          "encoding": {"y": {"datum": 0}, "y2": {"datum": 4.9}}
        }
      ]
    },
    {
      "width": 703, "height": 82,
      "encoding": {
        "x": {"field": "wavenumber", "type": "quantitative", "scale": {"domain": [400, 4000], "reverse": true, "nice": false, "zero": false},
              "axis": {"orient": "bottom", "ticks": false, "tickSize": 0, "labels": false, "title": null}},
        "y": {"field": "transmittance", "type": "quantitative", "scale": {"domain": [0, 100], "nice": false, "zero": false},
              "axis": {"ticks": false, "labels": false, "title": null}}
      },
      "layer": [
        {
          "transform": [{"filter": "datum.spectrum === 'SA'"}],
          "mark": {"type": "line", "strokeWidth": 1.3, "clip": true},
          "encoding": {
            "color": {"field": "spectrum", "type": "nominal", "scale": {"range": ["#2f9a30"]},
                      "legend": {"symbolOffset": 10, "labelOffset": 5}}
          }
        },
        {
          "data": {"name": "ticks"},
          "transform": [{"filter": "datum.kind === 'major'"}],
          "mark": {"type": "rule", "stroke": "#222222", "strokeWidth": 1.5},
          "encoding": {"y": {"datum": 0}, "y2": {"datum": 8.5}}
        },
        {
          "data": {"name": "ticks"},
          "transform": [{"filter": "datum.kind === 'minor'"}],
          "mark": {"type": "rule", "stroke": "#222222", "strokeWidth": 1.5},
          "encoding": {"y": {"datum": 0}, "y2": {"datum": 4.9}}
        }
      ]
    },
    {
      "width": 703, "height": 82,
      "encoding": {
        "x": {"field": "wavenumber", "type": "quantitative", "scale": {"domain": [400, 4000], "reverse": true, "nice": false, "zero": false},
              "axis": {"orient": "bottom", "ticks": false, "tickSize": 0, "labels": false, "title": null}},
        "y": {"field": "transmittance", "type": "quantitative", "scale": {"domain": [0, 100], "nice": false, "zero": false},
              "axis": {"ticks": false, "labels": false, "title": null}}
      },
      "layer": [
        {
          "transform": [{"filter": "datum.spectrum === 'DX'"}],
          "mark": {"type": "line", "strokeWidth": 1.3, "clip": true},
          "encoding": {
            "color": {"field": "spectrum", "type": "nominal", "scale": {"range": ["#a2369e"]},
                      "legend": {"symbolOffset": 10, "labelOffset": 5}}
          }
        },
        {
          "data": {"name": "ticks"},
          "transform": [{"filter": "datum.kind === 'major'"}],
          "mark": {"type": "rule", "stroke": "#222222", "strokeWidth": 1.5},
          "encoding": {"y": {"datum": 0}, "y2": {"datum": 8.5}}
        },
        {
          "data": {"name": "ticks"},
          "transform": [{"filter": "datum.kind === 'minor'"}],
          "mark": {"type": "rule", "stroke": "#222222", "strokeWidth": 1.5},
          "encoding": {"y": {"datum": 0}, "y2": {"datum": 4.9}}
        }
      ]
    },
    {
      "width": 703, "height": 82,
      "encoding": {
        "x": {"field": "wavenumber", "type": "quantitative", "scale": {"domain": [400, 4000], "reverse": true, "nice": false, "zero": false},
              "axis": {"orient": "bottom", "values": [4000, 3500, 3000, 2500, 2000, 1500, 1000, 500], "ticks": false, "tickSize": 0, "format": "d",
                       "labels": true, "labelFontSize": 18, "labelPadding": 7, "labelFlush": false, "labelOverlap": false,
                       "title": "Wavelength (1/cm)", "titleFontSize": 24, "titleFontWeight": "bold", "titlePadding": 12}},
        "y": {"field": "transmittance", "type": "quantitative", "scale": {"domain": [0, 100], "nice": false, "zero": false},
              "axis": {"ticks": false, "labels": false, "title": null}}
      },
      "layer": [
        {
          "transform": [{"filter": "datum.spectrum === 'OZ'"}],
          "mark": {"type": "line", "strokeWidth": 1.3, "clip": true},
          "encoding": {
            "color": {"field": "spectrum", "type": "nominal", "scale": {"range": ["#27278f"]},
                      "legend": {"symbolOffset": 10, "labelOffset": 5}}
          }
        },
        {
          "data": {"name": "ticks"},
          "transform": [{"filter": "datum.kind === 'major'"}],
          "mark": {"type": "rule", "stroke": "#222222", "strokeWidth": 1.5},
          "encoding": {"y": {"datum": 0}, "y2": {"datum": 8.5}}
        },
        {
          "data": {"name": "ticks"},
          "transform": [{"filter": "datum.kind === 'minor'"}],
          "mark": {"type": "rule", "stroke": "#222222", "strokeWidth": 1.5},
          "encoding": {"y": {"datum": 0}, "y2": {"datum": 4.9}}
        }
      ]
    }
  ],
  "config": {
    "font": "Liberation Sans",
    "view": {"stroke": null},
    "axis": {"domainColor": "#222222", "domainWidth": 1.5, "tickColor": "#222222", "tickWidth": 1.5, "grid": false,
             "labelColor": "#111111", "titleColor": "#111111", "zindex": 1, "minExtent": 0},
    "legend": {"title": null, "orient": "top-left", "offset": 0, "padding": 2, "strokeColor": "#8a8a8a", "fillColor": "#ffffff",
               "symbolType": "stroke", "symbolSize": 2500, "symbolStrokeWidth": 1.5, "clipHeight": 25,
               "labelFontSize": 23.5, "labelColor": "#111111", "labelLimit": 420, "cornerRadius": 0}
  }
}
